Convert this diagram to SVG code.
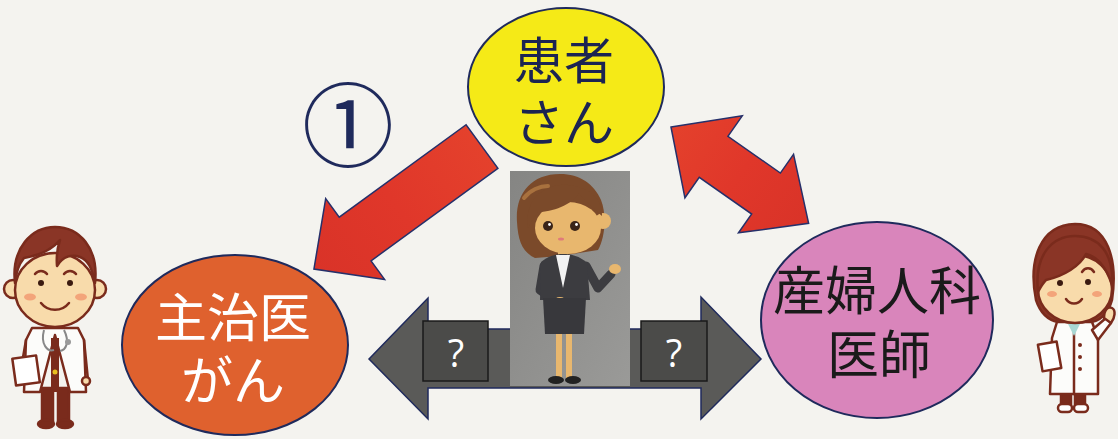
<svg xmlns="http://www.w3.org/2000/svg" width="1118" height="439" viewBox="0 0 1118 439">
  <defs>
    <linearGradient id="redFill" x1="0" y1="0" x2="1" y2="0">
      <stop offset="0" stop-color="#e4412c"/>
      <stop offset="0.5" stop-color="#e0372a"/>
      <stop offset="1" stop-color="#d93328"/>
    </linearGradient>
    <linearGradient id="panelFill" x1="0" y1="0" x2="1" y2="1">
      <stop offset="0" stop-color="#858583"/>
      <stop offset="1" stop-color="#9a9a98"/>
    </linearGradient>
    <style>
      .bg { fill: #f4f3ef; }
      .red-arrow { fill: url(#redFill); stroke: #26306a; stroke-width: 1.5; stroke-linejoin: miter; }
      .gray-arrow { fill: #5a5a58; stroke: #1f2a5c; stroke-width: 1.5; }
      .qbox { fill: #4b4b49; stroke: #1a1a1a; stroke-width: 1.5; }
      .qmark { font-family: "Open Sans", "DejaVu Sans", sans-serif; font-size: 38px; fill: #ffffff; text-anchor: middle; }
      .node { stroke: #1f2a5c; stroke-width: 2; }
      .label { font-family: "Noto Sans CJK JP", "Noto Sans CJK SC", sans-serif; text-anchor: middle; }
      .ol { stroke: #7a2b1c; stroke-width: 2.5; stroke-linejoin: round; stroke-linecap: round; }
      .skin { fill: #f8dbab; }
      .hair { fill: #8a3526; }
      .coat { fill: #fcfcfa; }
    </style>
  </defs>

  <rect class="bg" x="0" y="0" width="1118" height="439"/>

  <!-- connectors -->
  <g id="connectors">
    <!-- patient to attending doctor -->
    <polygon class="red-arrow" transform="translate(482,146.5) rotate(143.9)"
             points="0,-27 157,-27 157,-50 208,0 157,50 157,27 0,27"/>
    <!-- patient <-> gynecologist -->
    <polygon class="red-arrow" transform="translate(671,127) rotate(35)"
             points="0,0 52,-50 52,-25 116,-25 116,-48 168,0 116,48 116,25 52,25 52,50"/>
    <!-- attending doctor <-> gynecologist -->
    <polygon class="gray-arrow"
             points="369,359 428,298 428,329 701,329 701,297 761,359 701,419 701,388 428,388 428,419"/>
    <rect class="qbox" x="423" y="321" width="65" height="60"/>
    <text class="qmark" x="456" y="367">?</text>
    <rect class="qbox" x="641" y="321" width="66" height="60"/>
    <text class="qmark" x="674" y="367">?</text>
  </g>

  <!-- step number -->
  <g id="step-number">
    <text x="348" y="160" font-family="Noto Sans CJK JP, Noto Sans CJK SC, sans-serif" font-size="92" fill="#1f2a5c" text-anchor="middle">①</text>
  </g>

  <!-- patient -->
  <g id="node-patient">
    <ellipse class="node" cx="566" cy="87" rx="98" ry="79" fill="#f5ea17"/>
    <text class="label" font-size="50" fill="#1c2452"><tspan x="564" y="79">患者</tspan><tspan x="564" y="141">さん</tspan></text>
  </g>

  <!-- attending doctor (oncology) -->
  <g id="node-attending">
    <ellipse class="node" cx="235" cy="345" rx="113" ry="90" fill="#df612e"/>
    <text class="label" font-size="52" fill="#ffffff"><tspan x="233" y="337">主治医</tspan><tspan x="233" y="400">がん</tspan></text>
  </g>

  <!-- gynecologist -->
  <g id="node-gynecologist">
    <ellipse class="node" cx="877" cy="320" rx="116" ry="98" fill="#d985bb"/>
    <text class="label" font-size="52" fill="#1a1a1a"><tspan x="877" y="310">産婦人科</tspan><tspan x="879" y="374">医師</tspan></text>
  </g>

  <!-- coordinator in the middle -->
  <g id="node-coordinator">
    <rect x="510" y="171" width="120" height="215" fill="url(#panelFill)"/>
    <!-- hair back -->
    <path d="M560 174 C530 174 515 195 517 222 C518 240 522 252 535 258 L560 256 L598 250 C605 238 607 215 601 200 C594 184 580 174 560 174 Z" fill="#7b4a2a"/>
    <!-- ear and face -->
    <circle cx="603" cy="221" r="8" fill="#e8b76e"/>
    <ellipse cx="568" cy="228" rx="33" ry="26" fill="#e8b76e"/>
    <!-- bangs -->
    <path d="M528 228 C524 200 544 183 568 185 C590 187 603 200 602 216 C592 207 584 200 579 193 C572 205 552 212 538 212 C533 218 530 224 528 228 Z" fill="#7b4a2a"/>
    <path d="M524 198 C530 190 540 186 548 186" fill="none" stroke="#a8713e" stroke-width="4" stroke-linecap="round"/>
    <!-- eyes and mouth -->
    <circle cx="548" cy="226" r="5" fill="#3a2418"/>
    <circle cx="575" cy="226" r="5" fill="#3a2418"/>
    <circle cx="549.5" cy="224.5" r="1.4" fill="#ffffff"/>
    <circle cx="576.5" cy="224.5" r="1.4" fill="#ffffff"/>
    <ellipse cx="561" cy="239" rx="3" ry="1.5" fill="#e07a7a"/>
    <!-- neck -->
    <rect x="558" y="250" width="10" height="8" fill="#e8b76e"/>
    <!-- arms -->
    <path d="M586 266 L598 288 L611 274" fill="none" stroke="#3c3c40" stroke-width="9" stroke-linecap="round" stroke-linejoin="round"/>
    <ellipse cx="615" cy="269" rx="6" ry="5" fill="#e8b76e"/>
    <path d="M544 266 L540 290 L553 299" fill="none" stroke="#3c3c40" stroke-width="9" stroke-linecap="round" stroke-linejoin="round"/>
    <!-- jacket and shirt -->
    <path d="M541 262 C548 256 556 254 563 254 C571 254 580 256 587 263 L590 300 L540 300 Z" fill="#3c3c40"/>
    <path d="M556 255 L563 288 L570 255 Z" fill="#f2f2f2"/>
    <ellipse cx="560" cy="301" rx="6" ry="4" fill="#e8b76e"/>
    <!-- skirt -->
    <path d="M543 298 L586 298 L584 334 L545 334 Z" fill="#38383c"/>
    <!-- legs and shoes -->
    <rect x="556" y="334" width="6" height="44" fill="#e8b76e"/>
    <rect x="566" y="334" width="6" height="44" fill="#e8b76e"/>
    <ellipse cx="556" cy="380" rx="8" ry="4" fill="#222222"/>
    <ellipse cx="573" cy="380" rx="8" ry="4" fill="#222222"/>
  </g>

  <!-- male doctor, left -->
  <g id="figure-male-doctor">
    <!-- legs -->
    <rect class="ol" x="42" y="388" width="11" height="34" fill="#7a2b1c"/>
    <rect class="ol" x="58" y="388" width="11" height="34" fill="#7a2b1c"/>
    <ellipse class="ol" cx="46" cy="424" rx="8" ry="4" fill="#7a2b1c"/>
    <ellipse class="ol" cx="65" cy="424" rx="8" ry="4" fill="#7a2b1c"/>
    <!-- coat -->
    <path class="ol coat" d="M32 328 L78 328 L84 340 L86 392 L70 392 L55 335 L40 392 L24 392 L26 340 Z"/>
    <rect x="51" y="338" width="8" height="54" fill="#7a2b1c"/>
    <circle cx="55" cy="372" r="2.5" fill="#e8c020"/>
    <path class="ol" d="M26 340 L20 375" fill="none"/>
    <path class="ol" d="M84 340 L88 380" fill="none"/>
    <circle class="ol skin" cx="86" cy="381" r="4"/>
    <!-- stethoscope -->
    <path d="M44 330 C40 345 48 352 54 350 M64 330 C70 342 66 350 60 351" fill="none" stroke="#888888" stroke-width="2"/>
    <circle cx="68" cy="342" r="3" fill="#9a9a9a"/>
    <!-- clipboard -->
    <rect class="ol" x="14" y="357" width="24" height="27" fill="#ffffff" transform="rotate(-8 26 370)"/>
    <!-- head -->
    <circle class="ol skin" cx="13" cy="289" r="9"/>
    <circle class="ol skin" cx="97" cy="289" r="9"/>
    <ellipse class="ol skin" cx="55" cy="290" rx="40" ry="37"/>
    <path class="ol hair" d="M15 283 C11 248 32 227 55 227 C79 227 99 248 95 283 C92 268 88 260 80 257 C72 254 63 256 57 266 C56 254 58 246 60 240 C50 252 36 256 24 258 C19 264 16 272 15 283 Z"/>
    <path d="M35 274 C38 270 44 270 47 274 M64 274 C67 270 73 270 76 274" fill="none" stroke="#7a2b1c" stroke-width="2.5" stroke-linecap="round"/>
    <circle cx="41" cy="283" r="3" fill="#3a1a10"/>
    <circle cx="70" cy="283" r="3" fill="#3a1a10"/>
    <ellipse cx="30" cy="297" rx="6" ry="3.5" fill="#f3a47a"/>
    <ellipse cx="81" cy="297" rx="6" ry="3.5" fill="#f3a47a"/>
    <path d="M41 303 C48 312 62 312 69 303" fill="none" stroke="#7a2b1c" stroke-width="2.5" stroke-linecap="round"/>
  </g>

  <!-- female doctor, right -->
  <g id="figure-female-doctor">
    <!-- long hair behind -->
    <path class="ol hair" d="M1036 300 C1028 260 1040 225 1075 224 C1108 224 1118 260 1112 300 C1108 315 1098 322 1090 322 L1058 322 C1048 320 1040 312 1036 300 Z"/>
    <!-- feet -->
    <rect class="ol" x="1061" y="392" width="10" height="14" fill="#7a2b1c"/>
    <rect class="ol" x="1075" y="392" width="10" height="14" fill="#7a2b1c"/>
    <rect class="ol" x="1058" y="404" width="14" height="8" rx="4" fill="#ffffff"/>
    <rect class="ol" x="1074" y="404" width="14" height="8" rx="4" fill="#ffffff"/>
    <!-- coat -->
    <path class="ol coat" d="M1057 322 L1092 322 L1098 338 L1098 394 L1050 394 L1052 338 Z"/>
    <path class="ol" d="M1074 326 L1074 394" fill="none"/>
    <circle cx="1080" cy="345" r="2" fill="#7a2b1c"/>
    <circle cx="1080" cy="357" r="2" fill="#7a2b1c"/>
    <circle cx="1080" cy="369" r="2" fill="#7a2b1c"/>
    <path d="M1068 324 L1074 336 L1080 324" fill="#a8d8d4"/>
    <!-- raised arm -->
    <path class="ol coat" d="M1092 330 L1106 318 L1111 323 L1098 340 Z"/>
    <path class="ol skin" d="M1104 318 C1104 310 1108 306 1112 308 C1116 310 1115 318 1111 323 Z"/>
    <!-- clipboard -->
    <rect class="ol" x="1040" y="343" width="19" height="27" fill="#ffffff" transform="rotate(-10 1049 356)"/>
    <!-- head -->
    <ellipse class="ol skin" cx="1075" cy="289" rx="37" ry="34"/>
    <path class="ol hair" d="M1038 292 C1034 255 1052 236 1075 236 C1098 236 1114 252 1112 285 C1106 266 1096 256 1086 254 C1080 266 1064 276 1046 280 C1042 284 1040 288 1038 292 Z"/>
    <path d="M1082 272 C1085 267 1091 267 1094 272" fill="none" stroke="#7a2b1c" stroke-width="2.5" stroke-linecap="round"/>
    <circle cx="1060" cy="283" r="3" fill="#3a1a10"/>
    <circle cx="1088" cy="282" r="3" fill="#3a1a10"/>
    <ellipse cx="1052" cy="294" rx="5" ry="3" fill="#f3a47a"/>
    <ellipse cx="1097" cy="294" rx="5" ry="3" fill="#f3a47a"/>
    <path d="M1066 299 C1070 305 1078 305 1082 299" fill="none" stroke="#7a2b1c" stroke-width="2.5" stroke-linecap="round"/>
  </g>
</svg>
